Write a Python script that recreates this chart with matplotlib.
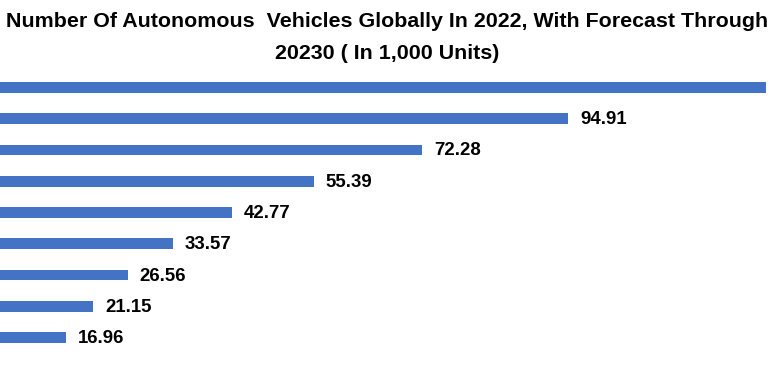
import matplotlib
matplotlib.use('Agg')
import matplotlib.pyplot as plt

years = ['2022', '2023', '2024', '2025', '2026', '2027', '2028', '2029', '2030']
units = [16.96, 21.15, 26.56, 33.57, 42.77, 55.39, 72.28, 94.91, 125.7]
title_lines = ['Number Of Autonomous  Vehicles Globally In 2022, With Forecast Through',
               '20230 ( In 1,000 Units)']

bar_color = '#4472C4'

W, H = 770, 377
fig = plt.figure(figsize=(W / 100, H / 100), dpi=100)

# axis zero sits left of the picture edge (chart was cropped)
zero_px = -43.2
px_per_unit = 6.44
ax_top, ax_bot = 70, 370
ax = fig.add_axes([zero_px / W, (H - ax_bot) / H, (W - zero_px) / W, (ax_bot - ax_top) / H])

pos = list(range(len(years)))
ax.barh(pos, units, height=0.34, color=bar_color)
ax.set_xlim(0, (W - zero_px) / px_per_unit)
row = 31.3
ax.set_ylim(-(ax_bot - 337.7) / row, 8 + (87.3 - ax_top) / row)

for p, v in zip(pos, units):
    if v > 110:
        continue  # label of the last bar falls outside the crop
    ax.annotate(f'{v:.2f}', (v, p), xytext=(12 * 0.72, -0.7), textcoords='offset points',
                va='center', ha='left', fontsize=13.4, fontweight='bold',
                family='Liberation Sans', color='black')

ax.axis('off')

# title: two lines on fixed baselines, size fitted so line 1 is ~760 px wide
baselines = [26.7, 59.3]
texts = [fig.text(0.5027, 1 - b / H, s, ha='center', va='baseline', fontsize=14,
                  fontweight='bold', family='Liberation Sans')
         for s, b in zip(title_lines, baselines)]
fig.canvas.draw()
w = texts[0].get_window_extent().width
for t in texts:
    t.set_fontsize(14 * 760 / w)

fig.savefig('out.png', dpi=100)
